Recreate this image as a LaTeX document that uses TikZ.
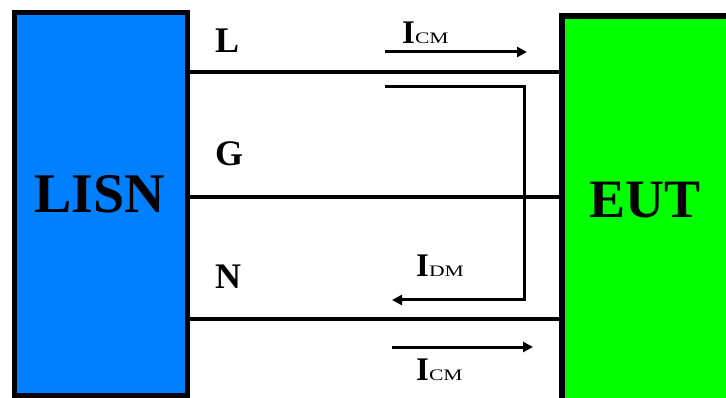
\documentclass[tikz,border=0pt]{standalone}
\usepackage{fontspec}
\setmainfont{Liberation Serif}
\usetikzlibrary{arrows.meta}
\definecolor{lisnblue}{RGB}{0,128,255}
\definecolor{eutgreen}{RGB}{0,255,0}
% current symbol: large bold I with a widened subscript-style tag
\newcommand\curlbl[1]{{\fontsize{33}{33}\selectfont\bfseries I}{\fontsize{16}{16}\selectfont\scalebox{1.35}[1]{#1}}}

\begin{document}
\begin{tikzpicture}[x=1pt,y=-1pt,
  box/.style={draw=black, line width=5.5pt, rectangle, inner sep=0pt},
  wire/.style={line width=4.5pt},
  current/.style={line width=3pt, -{Triangle[length=10pt,width=10pt]}},
  lineLabel/.style={font=\fontsize{36}{36}\selectfont\bfseries, anchor=base west, inner sep=0pt},
  boxLabel/.style={font=\fontsize{56}{56}\selectfont\bfseries, anchor=base, inner sep=0pt},
  curLabel/.style={anchor=base west, inner sep=0pt}]
\clip (0,0) rectangle (726,398);
\fill[white] (0,0) rectangle (726,398);

% the two boxes
\node[box, fill=lisnblue, minimum width=173pt, minimum height=383pt] (lisn) at (101,204) {};
\node[box, fill=eutgreen, line width=6pt, minimum width=178pt, minimum height=404pt] (eut) at (651,218) {};
\node[boxLabel] (lisnText) at (100,213) {LISN};
\node[boxLabel, font=\fontsize{54}{54}\selectfont\bfseries] (eutText) at (645,218) {EUT};

% line, ground and neutral conductors
\draw[wire] (lisn.east |- 0,72) -- (eut.west |- 0,72);
\draw[wire] (lisn.east |- 0,197) -- (eut.west |- 0,197);
\draw[wire] (lisn.east |- 0,319) -- (eut.west |- 0,319);
\node[lineLabel] (lblL) at (215,53) {L};
\node[lineLabel] (lblG) at (215,166) {G};
\node[lineLabel] (lblN) at (215,288) {N};

% common-mode and differential-mode currents
\coordinate (cmTopStart) at (385,52);
\coordinate (cmTopEnd) at (527,52);
\coordinate (dmStart) at (385,87);
\coordinate (dmCorner) at (524,300);
\coordinate (dmEnd) at (392,300);
\coordinate (cmBotStart) at (392,347);
\coordinate (cmBotEnd) at (533,347);
\draw[current] (cmTopStart) -- (cmTopEnd);
\draw[current] (dmStart) -| (dmCorner) -- (dmEnd);
\draw[current] (cmBotStart) -- (cmBotEnd);
\node[curLabel] (icmTop) at (402,44) {\curlbl{CM}};
\node[curLabel] (idm) at (416,277) {\curlbl{DM}};
\node[curLabel] (icmBot) at (416,380) {\curlbl{CM}};
\end{tikzpicture}
\end{document}
